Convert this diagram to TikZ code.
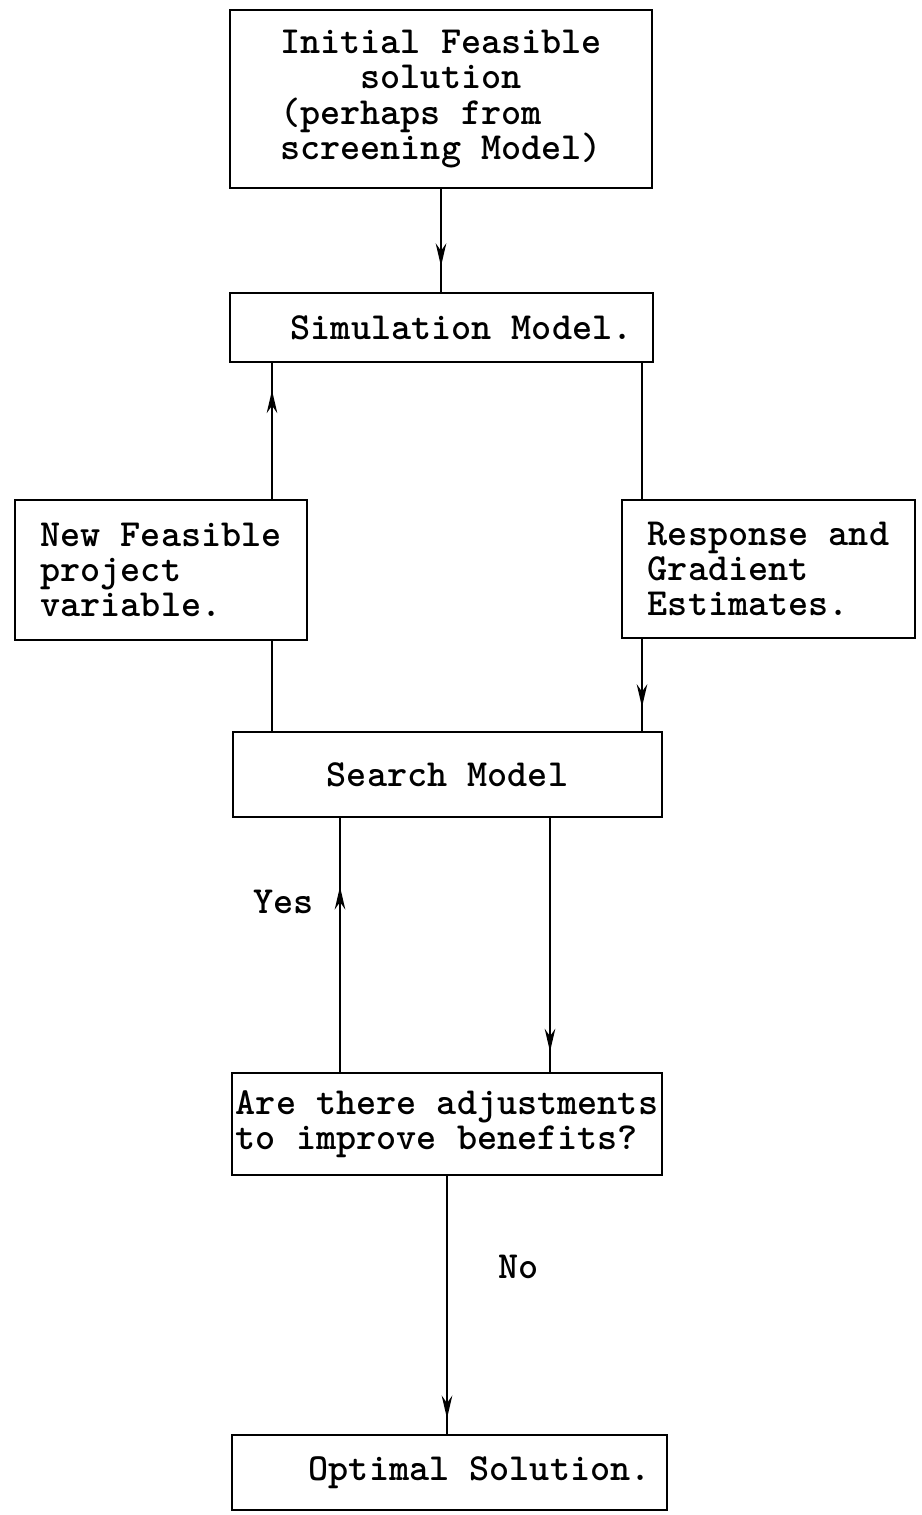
\documentclass[tikz,border=0pt]{standalone}
\usepackage{tikz}
\usetikzlibrary{arrows.meta,decorations.markings}
\newcommand\typed{\ttfamily\bfseries\fontsize{21.8}{20}\selectfont}

\begin{document}
\begin{tikzpicture}[x=0.02cm,y=-0.02cm,
    box/.style={draw,line width=1.2pt,inner sep=0pt,font=\typed,align=left},
    tag/.style={font=\typed,inner sep=0pt},
    link/.style={line width=1.2pt},
    tipat/.style={postaction={decorate},decoration={markings,
        mark=at position #1 with {\arrow{Stealth[length=13pt,width=6pt]}}}}]
    \useasboundingbox (0,0) rectangle (922,1515);

    \node[box,minimum width=8.44cm,minimum height=3.56cm] (init) at (441,99)
        {Initial Feasible\\\phantom{xxxx}solution\\(perhaps from\\screening Model)};
    \node[box,minimum width=8.46cm,minimum height=1.38cm] (sim) at (441.5,327.5) {\phantom{xx}Simulation Model.};
    \node[box,minimum width=5.84cm,minimum height=2.8cm] (newvar) at (161,570) {New Feasible\\project\\variable.};
    \node[box,minimum width=5.86cm,minimum height=2.76cm] (resp) at (768.5,569) {Response and\\Gradient\\Estimates.};
    \node[box,minimum width=8.58cm,minimum height=1.7cm] (search) at (447.5,774.5) {Search Model};
    \node[box,minimum width=8.6cm,minimum height=2.04cm] (adjust) at (447,1124) {Are there adjustments\\to improve benefits?};
    \node[box,minimum width=8.7cm,minimum height=1.5cm] (optimal) at (449.5,1472.5) {\phantom{xxx}Optimal Solution.};

    \coordinate (lx) at (272,0);
    \coordinate (rx) at (642,0);
    \coordinate (yx) at (340,0);
    \coordinate (dx) at (550,0);

    \draw[link,tipat=0.75] (init.south) -- (init.south |- sim.north);
    \draw[link,tipat=0.8] (newvar.north -| lx) -- (sim.south -| lx);
    \draw[link] (sim.south -| rx) -- (resp.north -| rx);
    \draw[link] (newvar.south -| lx) -- (search.north -| lx);
    \draw[link,tipat=0.74] (resp.south -| rx) -- (search.north -| rx);
    \draw[link,tipat=0.73] (adjust.north -| yx) -- (search.south -| yx)
        node[tag,pos=0.67,left=0.5cm] (yes) {Yes};
    \draw[link,tipat=0.92] (search.south -| dx) -- (adjust.north -| dx);
    \draw[link,tipat=0.94] (adjust.south) -- (adjust.south |- optimal.north)
        node[tag,pos=0.354,right=1cm] (no) {No};
\end{tikzpicture}
\end{document}
